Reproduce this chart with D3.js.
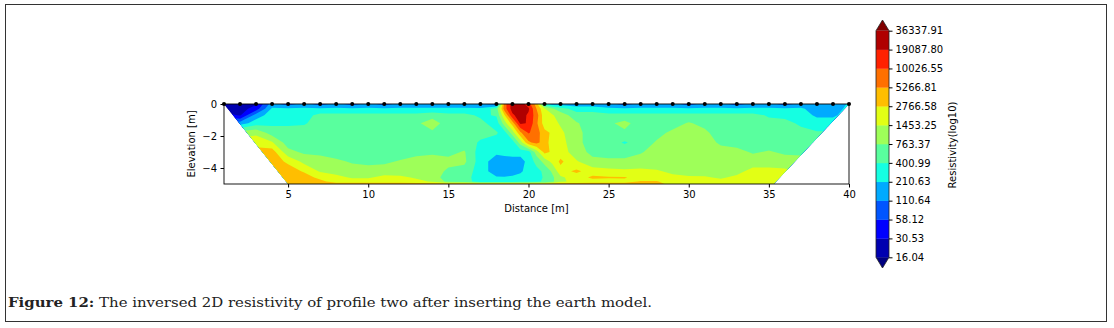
<!DOCTYPE html>
<html>
<head>
<meta charset="utf-8">
<style>
  html, body { margin: 0; padding: 0; background: #fff; }
  svg { display: block; font-family: "DejaVu Sans", sans-serif; }
</style>
<script src="https://cdn.jsdelivr.net/npm/d3@7"></script>
</head>
<body>
<div id="chart"></div>
<script>
// grid positions of the inverted model (m), denser around the anomaly
const distances = [1,2,3,4,5,6,7,8,9,10,11,12,13,14,15,16,17,18,18.5,19,19.5,20,20.5,21,21.5,
  22,23,24,25,26,27,28,29,30,31,32,33,34,35,36,37,38,39,40]
const depths = [0, 0.3, 0.7, 1.2, 1.8, 2.4, 3.0, 3.6, 4.2, 4.6, 4.85, 5.0]

// log10 resistivity, one row per depth
const d000 = [1.35,1.35,1.45,2.18,1.90,2.18,1.90,2.18,1.90,2.18,1.90,2.18,2.18,2.18,2.18,2.18,2.10,
  1.90,3.86,4.42,4.42,4.14,3.58,2.46,2.18,2.18,2.18,
  2.18,2.18,1.90,2.18,2.18,2.18,1.90,2.18,2.18,1.90,2.18,2.18,1.90,2.18,2.18,2.18,2.35]
const d030 = [1.35,1.35,1.62,2.37,2.37,2.37,2.37,2.37,2.37,2.37,2.37,2.37,2.37,2.37,2.37,2.37,2.37,
  2.74,3.86,4.42,4.45,4.34,3.72,3.19,2.91,2.74,2.46,
  2.46,2.37,2.37,2.37,2.37,2.37,2.37,2.37,2.37,2.37,2.37,2.37,2.37,2.37,2.18,2.18,2.41]
const d070 = [1.62,1.45,2.18,2.46,2.46,2.49,2.69,2.69,2.69,2.69,2.69,2.69,2.69,2.77,2.69,2.69,2.55,
  2.63,3.41,4.22,4.45,4.22,3.86,3.25,3.19,3.02,2.74,
  2.74,2.69,2.69,2.69,2.69,2.69,2.69,2.69,2.69,2.69,2.69,2.57,2.55,2.46,2.27,2.27,2.46]
const d120 = [2.18,2.18,2.46,2.55,2.55,2.57,2.74,2.74,2.74,2.74,2.74,2.74,2.83,3.02,2.74,2.74,2.69,
  2.46,3.02,3.58,4.34,4.25,3.78,3.30,3.25,3.13,2.91,
  2.74,2.83,2.97,2.74,2.74,2.77,2.91,2.80,2.74,2.74,2.74,2.69,2.66,2.57,2.46,2.46,2.55]
const d180 = [2.74,3.02,3.11,2.74,2.74,2.74,2.74,2.74,2.74,2.74,2.74,2.74,2.74,2.83,2.74,2.74,2.69,
  2.63,2.49,3.02,3.67,4.03,3.86,3.53,3.39,3.22,2.97,
  2.74,2.83,2.83,2.74,2.80,2.94,3.02,2.94,2.74,2.74,2.74,2.74,2.74,2.66,2.63,2.63,2.63]
const d240 = [3.02,3.30,3.30,3.19,2.74,2.74,2.74,2.74,2.74,2.74,2.74,2.74,2.74,2.74,2.74,2.74,2.57,
  2.49,2.46,2.46,3.02,3.67,3.81,3.58,3.30,3.27,2.97,
  2.74,2.74,2.57,2.74,2.91,3.02,3.02,3.02,2.83,2.77,2.74,2.74,2.74,2.74,2.69,2.69,2.69]
const d300 = [3.30,3.58,3.58,3.58,2.97,2.83,2.80,2.74,2.74,2.74,2.74,2.74,2.77,2.83,2.80,2.91,2.46,
  2.38,2.44,2.46,2.46,2.49,3.02,3.53,3.39,3.30,3.02,
  2.80,2.77,2.77,2.85,3.02,3.02,3.02,3.02,2.99,2.97,2.85,2.91,2.83,2.83,2.74,2.74,2.74]
const d360 = [3.58,3.58,3.58,3.58,3.39,3.08,3.02,2.94,2.85,2.80,2.83,2.91,3.02,3.02,2.97,2.94,2.46,
  2.18,2.16,2.18,2.18,2.44,2.69,2.99,3.25,3.50,3.19,
  2.97,2.94,2.94,3.02,3.02,3.02,3.02,3.02,3.02,3.02,3.02,3.02,3.02,2.97,2.91,2.91,2.91]
const d420 = [3.58,3.58,3.58,3.58,3.58,3.41,3.13,3.05,3.02,3.02,3.02,3.02,3.02,3.02,2.83,2.77,2.46,
  2.18,2.16,2.18,2.27,2.46,2.52,2.66,2.94,3.33,3.50,
  3.30,3.25,3.22,3.22,3.19,3.11,3.08,3.05,3.05,3.08,3.25,3.25,3.22,3.11,3.02,3.02,3.02]
const d460 = [3.58,3.58,3.58,3.58,3.58,3.58,3.36,3.25,3.13,3.13,3.25,3.22,3.13,3.02,2.74,2.71,2.46,
  2.35,2.35,2.38,2.44,2.46,2.52,2.63,2.83,3.11,3.30,
  3.50,3.47,3.47,3.30,3.25,3.22,3.19,3.19,3.13,3.22,3.30,3.30,3.30,3.19,3.02,3.02,3.02]
const d485 = [3.58,3.58,3.58,3.58,3.58,3.58,3.53,3.30,3.30,3.30,3.30,3.30,3.25,3.13,2.80,2.74,2.46,
  2.46,2.46,2.46,2.49,2.55,2.57,2.63,2.83,3.11,3.25,
  3.30,3.30,3.33,3.47,3.47,3.25,3.25,3.25,3.25,3.25,3.30,3.30,3.30,3.19,3.02,3.02,3.02]
const d500 = [3.58,3.58,3.58,3.58,3.58,3.58,3.58,3.58,3.58,3.58,3.58,3.58,3.58,3.58,3.58,3.58,3.58,
  3.58,3.58,3.58,3.58,3.58,3.58,3.58,3.58,3.58,3.58,
  3.58,3.58,3.58,3.58,3.58,3.30,3.30,3.30,3.30,3.30,3.30,3.30,3.30,3.19,3.02,3.02,3.02]

// colour levels (ohm.m) and their labels
const levels = [16.04, 30.53, 58.12, 110.64, 210.63, 400.99, 763.37, 1453.25, 2766.58, 5266.81, 10026.55, 19087.80, 36337.91]
const levelLabels = ["16.04", "30.53", "58.12", "110.64", "210.63", "400.99", "763.37", "1453.25", "2766.58", "5266.81", "10026.55", "19087.80", "36337.91"]
const bandColors = ["#0000b0", "#0000ff", "#0055ff", "#00aaff", "#15ffe2", "#59ff9e", "#9eff59", "#e2ff15", "#ffbe00", "#ff7000", "#ff2100", "#b00000"]
const underColor = "#000080"
const overColor = "#800000"

const electrodes = [1,2,3,4,5,6,7,8,9,10,11,12,13,14,15,16,17,18,19,20,
  21,22,23,24,25,26,27,28,29,30,31,32,33,34,35,36,37,38,39,40]
// model outline as [distance, depth]
const outline = [[1, 0], [40, 0], [35.3, 5], [5, 5]]
const xTicks = [5, 10, 15, 20, 25, 30, 35, 40]
const yTicks = [0, -2, -4]

const width = 1114, height = 328

let x = d3.scaleLinear().domain([1, 40]).range([224, 849])
let y = d3.scaleLinear().domain([-5, 0]).range([184, 104])

const svg = d3.select("#chart").append("svg")
  .attr("width", width).attr("height", height)

// page frame
svg.append("rect")
  .attr("x", 5.5).attr("y", 4.5).attr("width", 1101).attr("height", 317)
  .attr("fill", "none").attr("stroke", "#333").attr("stroke-width", 1)

// contours
const grid = [d000, d030, d070, d120, d180, d240, d300, d360, d420, d460, d485, d500]
const values = grid.flat()
const contours = d3.contours()
  .size([distances.length, depths.length])
  .thresholds(levels.map(Math.log10))(values)

const gx = d3.scaleLinear().domain(d3.range(distances.length)).range(distances)
const gy = d3.scaleLinear().domain(d3.range(depths.length)).range(depths)
const path = d3.geoPath(d3.geoTransform({
  point(px, py) { this.stream.point(x(gx(px - 0.5)), y(-gy(py - 0.5))) }
}))

svg.append("clipPath").attr("id", "model")
  .append("path")
  .attr("d", d3.line()(outline.map(p => [x(p[0]), y(-p[1])])) + "Z")

const field = svg.append("g").attr("clip-path", "url(#model)")
field.append("rect")
  .attr("x", x(1)).attr("y", y(0)).attr("width", x(40) - x(1)).attr("height", y(-5) - y(0))
  .attr("fill", underColor)
field.selectAll("path")
  .data(contours)
  .join("path")
  .attr("d", path)
  .attr("fill-rule", "evenodd")
  .attr("fill", (d, i) => i < bandColors.length ? bandColors[i] : overColor)

// axes frame
svg.append("rect")
  .attr("x", x(1)).attr("y", y(0)).attr("width", x(40) - x(1)).attr("height", y(-5) - y(0))
  .attr("fill", "none").attr("stroke", "#000").attr("stroke-width", 0.9)

svg.append("g")
  .attr("transform", `translate(0,${y(-5)})`)
  .call(d3.axisBottom(x).tickValues(xTicks).tickFormat(d3.format("d")).tickSize(3.5).tickPadding(3.5))
  .call(g => g.select(".domain").remove())
  .call(g => g.selectAll("text").attr("font-size", 10).attr("font-family", "DejaVu Sans").attr("fill", "#000"))

svg.append("g")
  .attr("transform", `translate(${x(1)},0)`)
  .call(d3.axisLeft(y).tickValues(yTicks).tickFormat(d3.format("d")).tickSize(3.5).tickPadding(3.5))
  .call(g => g.select(".domain").remove())
  .call(g => g.selectAll("text").attr("font-size", 10).attr("font-family", "DejaVu Sans").attr("fill", "#000"))

// electrodes
svg.append("g")
  .selectAll("circle")
  .data(electrodes)
  .join("circle")
  .attr("cx", d => x(d)).attr("cy", y(0)).attr("r", 2)
  .attr("fill", "#000")

svg.append("text")
  .attr("x", (x(1) + x(40)) / 2).attr("y", 211.7)
  .attr("text-anchor", "middle").attr("font-size", 10)
  .text("Distance [m]")

svg.append("text")
  .attr("transform", `translate(195,${(y(0) + y(-5)) / 2}) rotate(-90)`)
  .attr("text-anchor", "middle").attr("font-size", 10)
  .text("Elevation [m]")

// colorbar
const cbX = 876, cbW = 13
let cbY = d3.scaleLinear().domain([0, levels.length - 1]).range([257.3, 30.7])
const cb = svg.append("g")
cb.selectAll("rect")
  .data(bandColors)
  .join("rect")
  .attr("x", cbX).attr("width", cbW)
  .attr("y", (d, i) => cbY(i + 1))
  .attr("height", (d, i) => cbY(i) - cbY(i + 1) + 0.3)
  .attr("fill", d => d)
cb.append("path")
  .attr("d", `M${cbX},${cbY(12)}L${cbX + cbW / 2},${cbY(12) - 10.7}L${cbX + cbW},${cbY(12)}Z`)
  .attr("fill", overColor)
cb.append("path")
  .attr("d", `M${cbX},${cbY(0)}L${cbX + cbW / 2},${cbY(0) + 10.7}L${cbX + cbW},${cbY(0)}Z`)
  .attr("fill", underColor)
cb.append("path")
  .attr("d", `M${cbX},${cbY(12)}L${cbX + cbW / 2},${cbY(12) - 10.7}L${cbX + cbW},${cbY(12)}` +
    `L${cbX + cbW},${cbY(0)}L${cbX + cbW / 2},${cbY(0) + 10.7}L${cbX},${cbY(0)}Z`)
  .attr("fill", "none").attr("stroke", "#222").attr("stroke-width", 0.8)

svg.append("g")
  .attr("transform", `translate(${cbX + cbW},0)`)
  .call(d3.axisRight(cbY).tickValues(d3.range(levels.length)).tickFormat(i => levelLabels[i]).tickSize(3.5).tickPadding(3))
  .call(g => g.select(".domain").remove())
  .call(g => g.selectAll("text").attr("font-size", 10).attr("font-family", "DejaVu Sans").attr("fill", "#000"))

svg.append("text")
  .attr("transform", "translate(956,145) rotate(-90)")
  .attr("text-anchor", "middle").attr("font-size", 10)
  .text("Resistivity(log10)")

// caption
const cap = svg.append("text")
  .attr("x", 8).attr("y", 306.5)
  .attr("font-family", "DejaVu Serif").attr("font-size", 12).attr("fill", "#222")
  .attr("textLength", 644).attr("lengthAdjust", "spacingAndGlyphs")
cap.append("tspan").attr("font-weight", "bold").text("Figure 12:")
cap.append("tspan").text(" The inversed 2D resistivity of profile two after inserting the earth model.")
</script>
</body>
</html>
